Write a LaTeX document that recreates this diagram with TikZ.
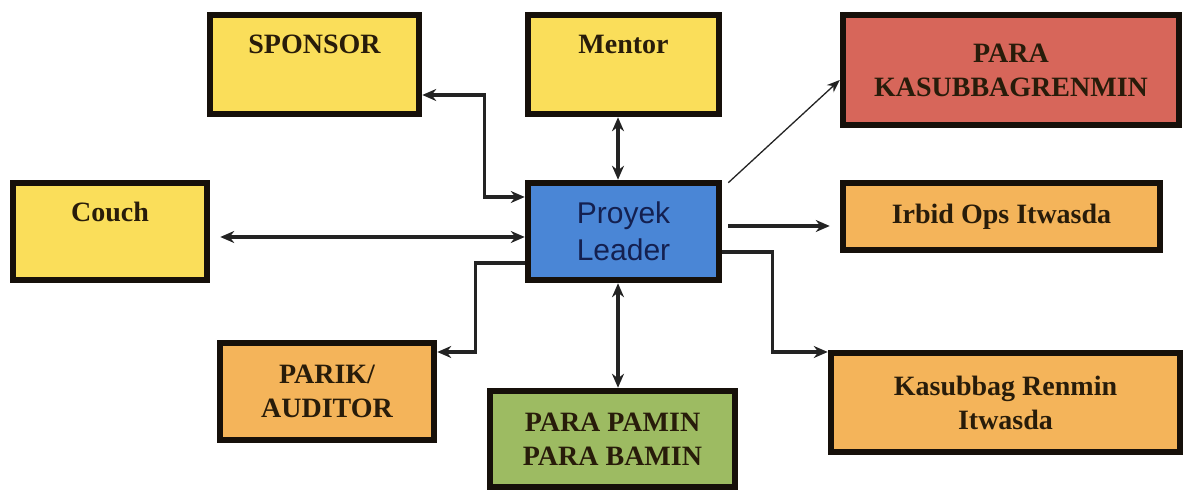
\documentclass[tikz,border=0pt]{standalone}
\usepackage{fontspec}
\setmainfont{Liberation Serif}[BoldFont={Liberation Serif Bold}]
\newfontfamily\arialfont{Liberation Sans}
\usetikzlibrary{arrows.meta}
\definecolor{yel}{RGB}{250,222,90}
\definecolor{blu}{RGB}{74,134,214}
\definecolor{redb}{RGB}{215,102,90}
\definecolor{ora}{RGB}{244,180,90}
\definecolor{grn}{RGB}{157,187,98}
\definecolor{bord}{RGB}{22,16,10}
\definecolor{txt}{RGB}{40,28,10}
\definecolor{navy}{RGB}{20,32,80}
\definecolor{lin}{RGB}{35,35,35}
\tikzset{
  box/.style={rectangle, draw=bord, line width=6.5pt, inner sep=0pt, align=center,
    text=txt, font=\fontsize{28}{34}\selectfont\bfseries},
  lbl/.style={anchor=base, inner sep=0pt, text=txt, font=\fontsize{28}{34}\selectfont\bfseries},
  conn/.style={draw=lin, line width=3.4pt, {Stealth[length=14pt,width=12pt]}-{Stealth[length=14pt,width=12pt]}},
  oneway/.style={draw=lin, line width=3.4pt, -{Stealth[length=14pt,width=12pt]}},
  thin/.style={draw=lin, line width=1.3pt, -{Stealth[length=13pt,width=10pt]}}
}
\begin{document}
\begin{tikzpicture}[x=1pt,y=1pt]
\useasboundingbox (0,0) rectangle (1183,490);
% boxes (y = 490 - pixel row)
\node[box, fill=yel, minimum width=209pt, minimum height=99pt] (sponsor) at (314.5,425.5) {};
\node[box, fill=yel, minimum width=191pt, minimum height=99pt] (mentor) at (623.5,425.5) {};
\node[box, fill=redb, minimum width=336pt, minimum height=110pt] (kasub) at (1011,420) {PARA\\KASUBBAGRENMIN};
\node[box, fill=yel, minimum width=194pt, minimum height=97pt] (couch) at (110,258.5) {};
\node[box, fill=blu, minimum width=191pt, minimum height=97pt, text=navy,
      font=\arialfont\fontsize{30}{37}\selectfont] (proyek) at (623.5,258.5) {Proyek\\Leader};
\node[box, fill=ora, minimum width=317pt, minimum height=67pt] (irbid) at (1001.5,273.5) {Irbid Ops Itwasda};
\node[box, fill=ora, minimum width=214pt, minimum height=97pt] (parik) at (327,98.5) {PARIK/\\AUDITOR};
\node[box, fill=grn, minimum width=245pt, minimum height=96pt] (pamin) at (612.5,51) {PARA PAMIN\\PARA BAMIN};
\node[box, fill=ora, minimum width=349pt, minimum height=99pt] (renmin) at (1005.5,87.5) {Kasubbag Renmin\\Itwasda};
% labels near top of yellow boxes
\node[lbl] (sponsorT) at ([yshift=-42pt]sponsor.north) {SPONSOR};
\node[lbl] (mentorT) at ([yshift=-42pt]mentor.north) {Mentor};
\node[lbl] (couchT) at ([yshift=-42pt]couch.north) {Couch};
% connectors
\draw[conn] ([yshift=-30.5pt]sponsor.east) -| ([xshift=-40pt,yshift=34.5pt]proyek.west) -- ([yshift=34.5pt]proyek.west);
\draw[conn] ([xshift=-5.5pt]mentor.south) -- ([xshift=-5.5pt]proyek.north);
\draw[conn] ([xshift=10pt,yshift=-5.5pt]couch.east) -- ([yshift=-5.5pt]proyek.west);
\draw[thin] ([xshift=6pt,yshift=-3pt]proyek.north east) -- ([yshift=-10pt]kasub.west);
\draw[oneway] ([xshift=6pt,yshift=5.5pt]proyek.east) -- ([xshift=-10pt,yshift=-9.5pt]irbid.west);
\draw[oneway] ([yshift=-20.5pt]proyek.east) -| ([xshift=-55pt,yshift=50.5pt]renmin.west) -- ([yshift=50.5pt]renmin.west);
\draw[oneway] ([yshift=-31.5pt]proyek.west) -| ([xshift=38pt,yshift=39.5pt]parik.east) -- ([yshift=39.5pt]parik.east);
\draw[conn] ([xshift=-5.5pt]proyek.south) -- ([xshift=5.5pt]pamin.north);
\end{tikzpicture}
\end{document}
